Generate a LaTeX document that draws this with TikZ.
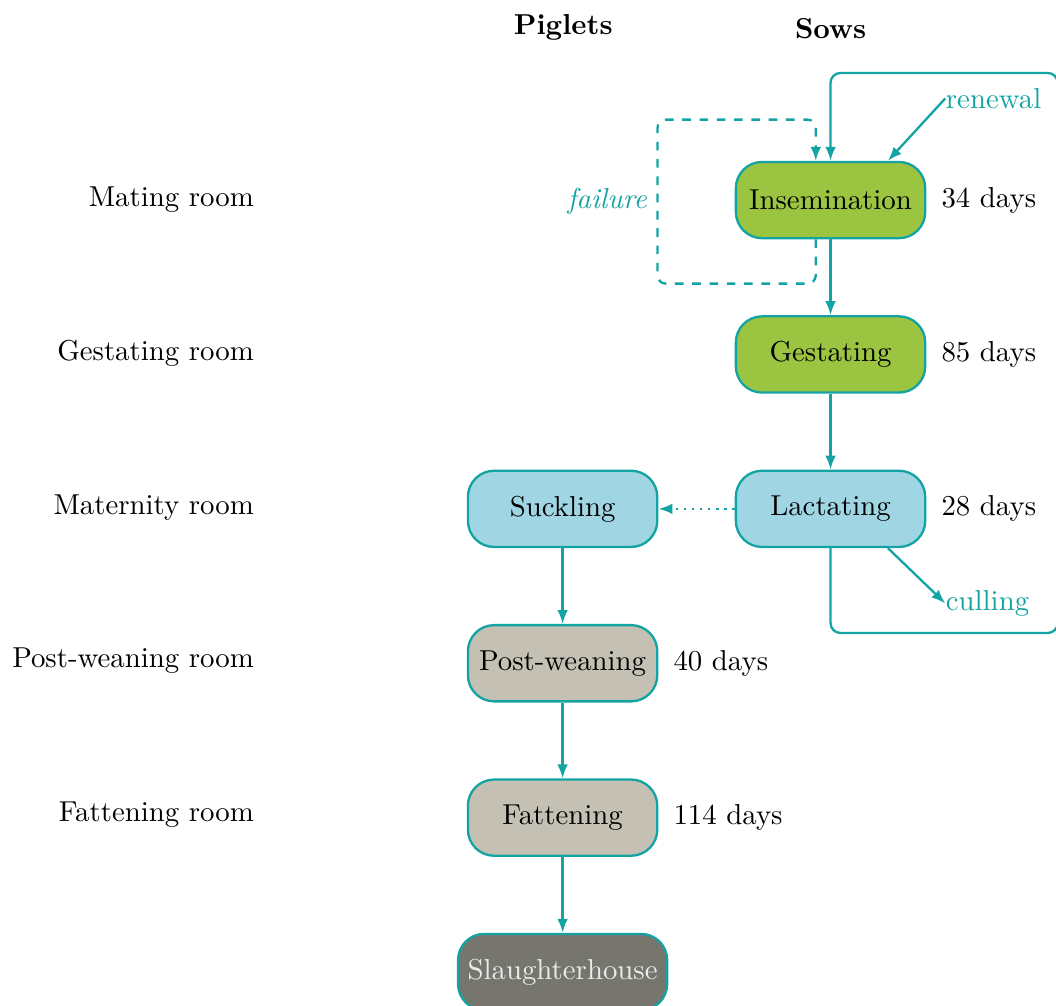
\documentclass[tikz,border=0pt]{standalone}
\usepackage{xcolor}
\usepackage{tikz}
\usetikzlibrary{arrows.meta,positioning}

\definecolor{teal}{RGB}{20,163,163}
\definecolor{sowgreen}{RGB}{155,196,64}
\definecolor{roomblue}{RGB}{160,214,228}
\definecolor{pigbeige}{RGB}{196,192,180}
\definecolor{slaughter}{RGB}{119,118,110}

\begin{document}
\begin{tikzpicture}[
  node distance=0.925cm,
  phase/.style={draw=teal,thick,rounded corners=0.32cm,minimum width=2.31cm,minimum height=0.93cm},
  flow/.style={teal,thick,-{Latex[length=1.7mm,width=1.3mm]}},
  days/.style={right=0.06cm of #1}
]
\useasboundingbox (0,0) rectangle (12.88,-12.26);

% column headers
\node[font=\bfseries] (piglethead) at (6.87,-0.33) {Piglets};
\node[font=\bfseries] (sowhead) at (10.13,-0.35) {Sows};

% rooms
\node[anchor=east] (matingroom) at (3.22,-2.44) {Mating room};
\node[anchor=east] (gestroom) at (3.22,-4.31) {Gestating room};
\node[anchor=east] (materroom) at (3.22,-6.19) {Maternity room};
\node[anchor=east] (postroom) at (3.22,-8.06) {Post-weaning room};
\node[anchor=east] (fatroom) at (3.22,-9.94) {Fattening room};

% sows
\node[phase,fill=sowgreen] (insem) at (10.13,-2.44) {Insemination};
\node[phase,fill=sowgreen,below=of insem] (gest) {Gestating};
\node[phase,fill=roomblue,below=of gest] (lact) {Lactating};

% piglets
\node[phase,fill=roomblue,left=0.93cm of lact] (suck) {Suckling};
\node[phase,fill=pigbeige,below=of suck] (postw) {Post-weaning};
\node[phase,fill=pigbeige,below=of postw] (fatt) {Fattening};
\node[phase,fill=slaughter,text=white!92!black,below=of fatt] (slaught) {Slaughterhouse};

% durations
\node[days=insem] (d1) {34 days};
\node[days=gest] (d2) {85 days};
\node[days=lact] (d3) {28 days};
\node[days=postw] (d4) {40 days};
\node[days=fatt] (d5) {114 days};

\draw[flow] (insem) -- (gest);
\draw[flow] (gest) -- (lact);
\draw[flow,dotted] (lact) -- (suck);
\draw[flow] (suck) -- (postw);
\draw[flow] (postw) -- (fatt);
\draw[flow] (fatt) -- (slaught);

% failure loop
\draw[flow,dashed,rounded corners=0.1cm] ([xshift=-0.18cm]insem.south) -- ++(0,-0.54) -- ++(-1.93,0)
  -- node[left,font=\itshape] {failure} ++(0,2.0) -- ++(1.93,0) -- ([xshift=-0.18cm]insem.north);

% renewal / culling
\node[anchor=west,inner sep=0pt,text=teal] (renewal) at (11.53,-1.20) {renewal};
\node[anchor=west,inner sep=0pt,text=teal] (culling) at (11.53,-7.36) {culling};
\draw[flow] (renewal.west) -- ([xshift=0.7cm]insem.north);
\draw[flow] ([xshift=0.7cm]lact.south) -- (culling.west);
\draw[flow,rounded corners=0.12cm] (lact.south) |- (12.9,-7.72) -- (12.9,-0.89) -| (insem.north);

\end{tikzpicture}
\end{document}
